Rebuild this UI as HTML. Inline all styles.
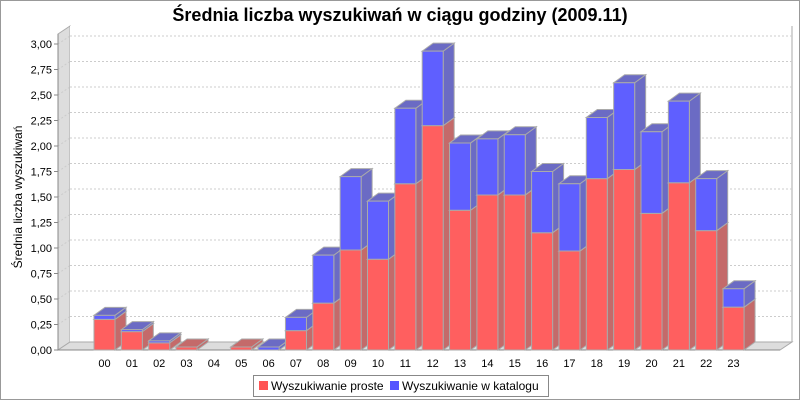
<!DOCTYPE html>
<html><head><meta charset="utf-8"><style>
body{margin:0;background:#fff}
svg text{font-family:"Liberation Sans",sans-serif}
</style></head><body>
<svg id="c" width="800" height="400" xmlns="http://www.w3.org/2000/svg">
<rect x="0.5" y="0.5" width="799" height="399" fill="#fff" stroke="#999"/>
<text x="400" y="21" text-anchor="middle" font-size="18" font-weight="bold">Średnia liczba wyszukiwań w ciągu godziny (2009.11)</text>
<text transform="translate(22,197) rotate(-90)" text-anchor="middle" font-size="12">Średnia liczba wyszukiwań</text>
<g id="plot"></g>
<g>
<rect x="253.5" y="375.5" width="295" height="21" fill="#fff" stroke="#888"/>
<rect x="259" y="381" width="9" height="9" fill="#ff5555"/>
<text x="271" y="390" font-size="12">Wyszukiwanie proste</text>
<rect x="390" y="381" width="9" height="9" fill="#5555ff"/>
<text x="402" y="390" font-size="12">Wyszukiwanie w katalogu</text>
</g>
</svg>
<script>
const categories=["00","01","02","03","04","05","06","07","08","09","10","11","12","13","14","15","16","17","18","19","20","21","22","23"];
const proste=[0.30,0.18,0.07,0.03,0,0.03,0,0.19,0.46,0.98,0.89,1.63,2.20,1.37,1.52,1.52,1.15,0.97,1.68,1.77,1.34,1.64,1.17,0.42];
const katalog=[0.04,0.02,0.02,0,0,0,0.03,0.13,0.47,0.72,0.57,0.74,0.73,0.66,0.55,0.59,0.60,0.66,0.60,0.85,0.80,0.80,0.51,0.18];
const yTicks=[0,0.25,0.5,0.75,1,1.25,1.5,1.75,2,2.25,2.5,2.75,3];
const NS="http://www.w3.org/2000/svg";
const g=document.getElementById('plot');
const X0=58,X1=780,Y0=350,YMAX=3.0,YTOP=44,DX=11,DY=-8;
function y(v){return Y0-(v/YMAX)*(Y0-YTOP);}
function x(i){return 94+i*27.35;}
const BW=21;
function el(t,a){const e=document.createElementNS(NS,t);for(const k in a)e.setAttribute(k,a[k]);g.appendChild(e);return e;}
function poly(pts,fill,stroke){return el('polygon',{points:pts.map(p=>p.join(',')).join(' '),fill:fill,stroke:stroke||'none','stroke-width':1});}
// walls
let w=poly([[X0,YTOP-10],[X0+DX+1,YTOP-10+DY],[X0+DX+1,Y0+DY],[X0,Y0]],'#dddddd','#aaa');


let bw=el('rect',{x:X0+DX+1,y:YTOP-10+DY,width:X1-X0,height:Y0-YTOP+10,fill:'#fff'});


let fl=poly([[X0,Y0],[X0+DX+1,Y0+DY],[X1+DX+1,Y0+DY],[X1,Y0]],'#dddddd','#aaa');


el('line',{x1:X1+DX+1,y1:YTOP-10+DY,x2:X1+DX+1,y2:Y0+DY,stroke:'#aaa'});
yTicks.forEach(t=>{
  const yy=y(t);
  if(t>0){const l=el('line',{x1:X0+DX+1,y1:yy+DY,x2:X1+DX+1,y2:yy+DY,stroke:'#ccc','stroke-dasharray':'2,2'});
  
  
  el('line',{x1:X0,y1:yy,x2:X0+DX+1,y2:yy+DY,stroke:'#ccc','stroke-dasharray':'2,2'});}
  el('line',{x1:X0-4,y1:yy,x2:X0,y2:yy,stroke:'#888'});
  const tx=el('text',{x:X0-6,y:yy+4,'text-anchor':'end','font-size':'11'});
  tx.textContent=t.toFixed(2).replace('.',',');
  
  
});
el('line',{x1:X0,y1:YTOP-10,x2:X0,y2:Y0,stroke:'#888'});
el('line',{x1:X0,y1:Y0,x2:X1,y2:Y0,stroke:'#888'});
function seg(i,v0,v1,front,side,top,name){
  if(v1-v0<=0)return;
  const l=x(i),r=l+BW,a=y(v0),b=y(v1);
  const grp=document.createElementNS(NS,'g');g.appendChild(grp);
  
  
  const mk=(pts,f)=>{const p=document.createElementNS(NS,'polygon');p.setAttribute('points',pts.map(q=>q.join(',')).join(' '));p.setAttribute('fill',f);p.setAttribute('stroke','#aaa');p.setAttribute('stroke-width','1');grp.appendChild(p);};
  mk([[r,a],[r+DX,a+DY],[r+DX,b+DY],[r,b]],side);
  mk([[l,b],[l+DX,b+DY],[r+DX,b+DY],[r,b]],top);
  mk([[l,a],[r,a],[r,b],[l,b]],front);
}
categories.forEach((c,i)=>{
  seg(i,0,proste[i],'#ff5f5f','#c46a6a','#c46a6a','bar-proste-'+c);
  seg(i,proste[i],proste[i]+katalog[i],'#5f5fff','#6b6bc4','#6b6bc4','bar-katalog-'+c);
  const tx=el('text',{x:x(i)+BW/2,y:Y0+17,'text-anchor':'middle','font-size':'11'});
  tx.textContent=c;
  
  
});
</script>
</body></html>
